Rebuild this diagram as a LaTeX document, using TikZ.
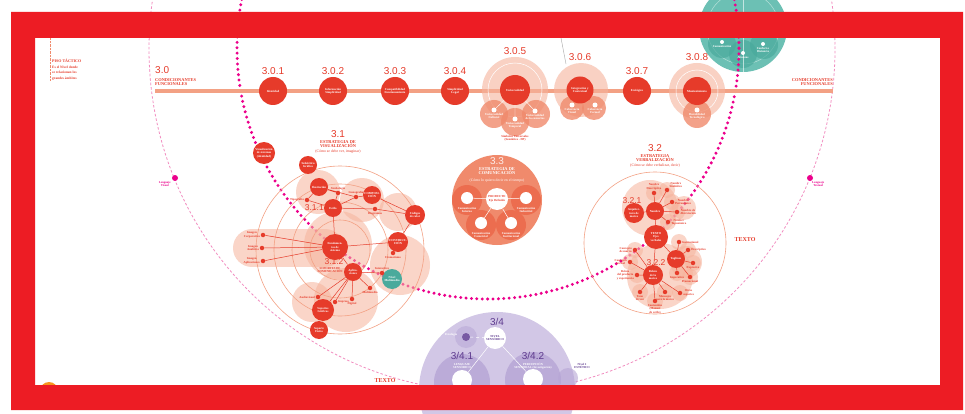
\documentclass[tikz,border=0pt]{standalone}
\usepackage{fontspec}
\setmainfont{Liberation Serif}
\newfontfamily\numfont{Liberation Sans}
\newcommand\tinyt{\fontsize{3}{3.4}\selectfont\bfseries}
\newcommand\midt{\fontsize{4.4}{4.8}\selectfont\bfseries}
\newcommand\numt{\numfont\fontsize{10}{10}\selectfont}
\newcommand\numst{\numfont\fontsize{8.5}{8.5}\selectfont}
\definecolor{fred}{HTML}{ED1C24}
\definecolor{nred}{HTML}{E63B2A}
\definecolor{salL}{HTML}{F6B39C}
\definecolor{salM}{HTML}{F08A6C}
\definecolor{salD}{HTML}{EC6D4F}
\definecolor{lineS}{HTML}{F3A184}
\definecolor{mag}{HTML}{EC008C}
\definecolor{pinkl}{HTML}{F28DC0}
\definecolor{teal1}{HTML}{6CC0B4}
\definecolor{teal2}{HTML}{4AAA9C}
\definecolor{lav}{HTML}{D2C7E6}
\definecolor{lavD}{HTML}{B6A5D5}
\definecolor{purp}{HTML}{5E3A8E}
\definecolor{orng}{HTML}{F7941D}
\tikzset{
 rn/.style={circle, fill=nred, inner sep=0pt, minimum size=#1, text=white, font=\tinyt, align=center},
 halo/.style={circle, fill=salL, fill opacity=0.6, inner sep=0pt, minimum size=#1},
 halom/.style={circle, fill=salM, fill opacity=0.8, inner sep=0pt, minimum size=#1},
 wdot/.style={circle, fill=white, inner sep=0pt, minimum size=#1},
 sdot/.style={circle, fill=nred, inner sep=0pt, minimum size=4.5pt},
 lbl/.style={font=\tinyt, text=nred, align=center, inner sep=0.6pt},
 wlbl/.style={font=\tinyt, text=white, align=center, inner sep=0.6pt},
 head/.style={font=\midt, text=nred, align=center, inner sep=0pt},
 num/.style={font=\numt, text=nred, inner sep=0pt},
 nums/.style={font=\numst, text=nred, inner sep=0pt},
 conn/.style={draw=nred, line width=0.5pt},
 wconn/.style={draw=white, line width=0.5pt},
 blob/.style={fill=salL, fill opacity=0.55},
}
\begin{document}
\begin{tikzpicture}[x=1pt,y=-1pt]
\useasboundingbox (0,0) rectangle (965,414);
\fill[white] (0,0) rectangle (965,414);
\begin{scope}
\clip (0,0) rectangle (965,414);

% ---------- big curves ----------
\draw[pinkl, line width=0.8pt, dash pattern=on 2.5pt off 2pt] (492,49) circle (343pt);

% ---------- purple semicircle ----------
\fill[lav] (497,390) circle (78pt);
\fill[lavD, opacity=0.8] (462,382) circle (28pt);
\fill[lavD, opacity=0.8] (533,380) circle (28pt);
\fill[lavD, opacity=0.6] (568,378) circle (10pt);
\fill[lavD, opacity=0.5] (466,337) circle (11pt);
\node[text=purp, font=\numt, inner sep=0pt] (t34) at (497,322) {3/4};
\node[wdot=22pt, text=purp, font=\tinyt, align=center] (ns) at (495,338) {NIVEL\\SENSÓRICO};
\node[circle, fill=purp!70!lavD, inner sep=0pt, minimum size=8pt] (fis) at (466,337) {};
\node[wlbl, anchor=east] (fisl) at (458,335) {Fisiología};
\draw[white, line width=0.5pt, dashed] (fis) -- (ns);
\node[text=purp, font=\numt, inner sep=0pt] (t341) at (462,356) {3/4.1};
\node[wlbl] (l341) at (462,366) {LENGUAJE\\SENSÓRICO};
\node[wdot=20pt] (wl) at (462,380) {};
\node[text=purp, font=\numt, inner sep=0pt] (t342) at (533,356) {3/4.2};
\node[wlbl] (l342) at (533,366) {PERCEPCIÓN\\SENSORIAL (Investigación)};
\node[wdot=20pt] (wr) at (533,379) {};
\draw[wconn] (ns) -- (wl) (ns) -- (wr);
\node[font=\tinyt, text=purp, align=center, inner sep=0pt] (n2e) at (582,366) {Nivel 2\\ESTÉTICO};

% ---------- teal circle (top) ----------
\fill[teal1] (743,28) circle (44pt);
\draw[white, opacity=0.5, line width=0.5pt] (743,28) circle (36pt);
\fill[teal2, opacity=0.7] (722,44) circle (14pt) (764,45) circle (14pt);
\fill[teal2, opacity=0.7] (743,54) circle (14pt);
\draw[white, opacity=0.6, line width=0.5pt] (743,-20) -- (743,72);
\node[wdot=4pt, label={[wlbl, label distance=0pt]below:Comunicación}] (tc1) at (722,42) {};
\node[wdot=4pt, label={[wlbl, label distance=0pt]below:Alianzas}] (tc2) at (743,53) {};
\node[wdot=4pt, label={[wlbl, label distance=0pt]below:{Confort o\\Distancia}}] (tc3) at (763,44) {};

% ---------- magenta dotted circle ----------
\draw[mag, line width=3.3pt, dash pattern=on 0pt off 5.4pt, line cap=round] (488,48) circle (251pt);

% ---------- top-left text ----------
\draw[salM, line width=0.8pt, dash pattern=on 0.6pt off 0.8pt] (50,38) -- (50,81);
\node[font=\fontsize{3.5}{5.5}\selectfont\bfseries, text=nred, align=left, anchor=north west, inner sep=0pt] (tl) at (52,59) {{\fontsize{4}{5.5}\selectfont PISO TÁCTICO}\\Es el Nivel donde\\se relacionan los\\grandes ámbitos};

% ---------- main line 3.0 ----------
\coordinate (l0) at (155,91);
\coordinate (l1) at (833,91);
\draw[lineS, line width=4pt] (l0) -- (l1);
\node[num, anchor=west] (t30) at (155,70) {3.0};
\node[head, anchor=north west, align=left] (h30) at (155,78) {CONDICIONANTES\\FUNCIONALES};
\node[head, anchor=north east, align=right] (h30r) at (833,78) {CONDICIONANTES\\FUNCIONALES};

% halos
\node[halo=66pt] (h305) at (515,90) {};
\draw[white, line width=0.5pt] (h305.center) circle (27pt);
\node[halom=28pt] (u1h) at (494,114) {};
\node[halom=28pt] (u3h) at (536,114) {};
\node[halom=28pt] (u2h) at (515,122) {};
\node[halo=54pt] (h306) at (581,90) {};
\node[halom=24pt] (c1h) at (572,108) {};
\node[halom=24pt] (c2h) at (594,108) {};
\node[halo=56pt] (h308) at (697,91) {};
\draw[white, line width=0.5pt] (h308.center) circle (21pt);
\node[halom=28pt] (d8h) at (697,114) {};

% nodes
\node[rn=28pt] (n301) at (273,91) {Identidad};
\node[rn=28pt] (n302) at (333,91) {Información\\Simplicidad};
\node[rn=28pt] (n303) at (395,91) {Compatibilidad\\Funcionamiento};
\node[rn=28pt] (n304) at (455,91) {Simplicidad\\Legal};
\node[rn=30pt] (n305) at (515,90) {Universalidad};
\node[rn=27pt] (n306) at (580,90) {Integración y\\Contextual};
\node[rn=28pt] (n307) at (637,91) {Ecológico};
\node[rn=28pt] (n308) at (697,91) {Mantenimiento};
\node[num] at (273,71) {3.0.1};
\node[num] at (333,71) {3.0.2};
\node[num] at (395,71) {3.0.3};
\node[num] at (455,71) {3.0.4};
\node[num] at (515,51) {3.0.5};
\node[num] at (580,57) {3.0.6};
\node[num] at (637,71) {3.0.7};
\node[num] at (697,57) {3.0.8};

\node[wdot=5pt] (u1) at (494,110) {};
\node[wdot=5pt] (u2) at (515,119) {};
\node[wdot=5pt] (u3) at (535,111) {};
\draw[wconn, line width=0.4pt] (n305) -- (u1) (n305) -- (u2) (n305) -- (u3);
\node[wlbl, anchor=north] at (u1.south) {Universalidad\\Cultural};
\node[wlbl, anchor=north] at (u2.south) {Universalidad\\Temporal};
\node[wlbl, anchor=north] at (u3.south) {Universalidad\\de los usuarios};
\node[lbl] (sym) at (515,138) {Símbolos Universales\\(Semiótica - DP)};
\node[wdot=5pt] (cv) at (572,105) {};
\node[wdot=5pt] (cf) at (595,105) {};
\node[wlbl, anchor=north] at (cv.south) {Coherencia\\Visual};
\node[wlbl, anchor=north] at (cf.south) {Coherencia\\Formal};
\node[wdot=5pt] (dt) at (697,110) {};
\node[wlbl, anchor=north] at (dt.south) {Durabilidad\\Tecnológica};
\draw[gray!70, line width=0.4pt] (561,38) -- (566,64);

% ---------- 3.1 ----------
\node[num] (t31) at (338,134) {3.1};
\node[head] (h31) at (338,144) {ESTRATEGIA DE\\VISUALIZACIÓN};
\node[lbl, font=\fontsize{3.8}{4}\selectfont] (s31) at (338,152) {(Cómo se debe ver, imaginar)};
\draw[salL, opacity=0.55, line width=38pt, line cap=round] (252,248) -- (325,248);
\fill[blob] (318,192) circle (22pt);
\fill[blob] (362,200) circle (22pt);
\fill[blob] (398,212) circle (19pt);
\fill[blob] (338,245) circle (34pt);
\fill[blob] (400,265) circle (30pt);
\fill[blob] (346,300) circle (32pt);
\fill[blob] (312,302) circle (20pt);
\draw[lineS, line width=0.6pt] (340,250) circle (30pt) circle (48pt) circle (66pt) circle (84pt);

\node[rn=22pt] (vis) at (264,153) {Visualización\\de sistemas\\(identidad)};
\node[rn=18pt] (sen) at (308,165) {Señalética\\Gráfica};
\node[rn=18pt] (ilu) at (319,187) {Ilustración};
\node[rn=18pt] (com) at (372,195) {COMPOSI-\\CIÓN};
\node[rn=20pt] (cod) at (415,215) {Códigos\\de color};
\node[rn=20pt] (con) at (398,242) {CONSTRUC-\\CIÓN};
\node[rn=18pt] (est) at (333,208) {Estilo};
\node[rn=26pt] (fun) at (335,247) {Fundamen-\\tos de\\sistema};
\node[rn=18pt] (apl) at (353,272) {Aplica-\\ciones};
\node[rn=20pt, fill=teal2] (tea) at (392,279) {Nivel\\Multimedia};
\node[rn=22pt] (low1) at (323,310) {Soportes\\Gráficos};
\node[rn=18pt] (low2) at (319,330) {Soporte\\Físico};
\node[sdot, label={[lbl]left:Tipografía}] (s1) at (307,200) {};
\node[sdot, label={[lbl]above:Simbología}] (s2) at (338,193) {};
\node[sdot, label={[lbl]above:Iconografía}] (s3) at (356,197) {};
\node[sdot, label={[lbl]below:Diagramas}] (s4) at (375,209) {};
\node[sdot, label={[lbl]below:Cromatismo}] (s5) at (393,253) {};
\node[sdot, label={[lbl]left:{Imagen\\Corporativa}}] (a1) at (263,235) {};
\node[sdot, label={[lbl]left:{Imagen\\Analítica}}] (a2) at (262,248) {};
\node[sdot, label={[lbl]left:{Imagen\\Aplicaciones}}] (a3) at (263,261) {};
\node[sdot, label={[lbl]above:Interactivo}] (b1) at (382,273) {};
\node[sdot, label={[lbl]below:Multimedia}] (b2) at (370,288) {};
\node[sdot, label={[lbl]below:Digital}] (b3) at (352,299) {};
\node[sdot, label={[lbl]right:Impreso}] (b4) at (335,302) {};
\node[sdot, label={[lbl]left:Audiovisual}] (b5) at (318,297) {};
\node[nums, anchor=east] at (324,208) {3.1.1};
\node[nums] at (334,262) {3.1.2};
\node[lbl] at (330,270) {SOPORTES DE\\COMUNICACIÓN};
\draw[conn] (fun)--(a1) (fun)--(a2) (fun)--(a3) (fun)--(est) (fun)--(apl) (fun)--(con)
  (est)--(s1) (est)--(s2) (est)--(s3) (ilu)--(s1) (ilu)--(s2) (ilu)--(s3) (s3)--(com)
  (com)--(cod) (s4)--(cod) (est)--(s4) (con)--(cod) (con)--(s5)
  (apl)--(b1) (apl)--(b2) (apl)--(b3) (apl)--(b4) (apl)--(b5) (apl)--(low1) (b1)--(tea) (low1)--(low2);

% ---------- 3.3 ----------
\node[circle, fill=salM, inner sep=0pt, minimum size=90pt] (c33) at (497,200) {};
\node[font=\numt, text=white!85!salM, inner sep=0pt] (t33) at (497,161) {3.3};
\node[head, text=white] (h33) at (497,171) {ESTRATEGIA DE\\COMUNICACIÓN};
\node[wlbl, font=\fontsize{3.8}{4}\selectfont] (s33) at (497,181) {(Cómo lo quiero decir en el tiempo)};
\node[circle, fill=salD, inner sep=0pt, minimum size=30pt] (k1h) at (467,200) {};
\node[circle, fill=salD, inner sep=0pt, minimum size=30pt] (k2h) at (526,200) {};
\node[circle, fill=salD, inner sep=0pt, minimum size=30pt] (k3h) at (481,225) {};
\node[circle, fill=salD, inner sep=0pt, minimum size=30pt] (k4h) at (511,225) {};
\node[wdot=12pt] (k1) at (467,198) {};
\node[wdot=12pt] (k2) at (526,198) {};
\node[wdot=12pt] (k3) at (481,223) {};
\node[wdot=12pt] (k4) at (511,223) {};
\node[wdot=22pt, text=nred, font=\tinyt, align=center] (prod) at (497,199) {PRODUCTO\\Eje Definido};
\draw[wconn] (prod)--(k1) (prod)--(k2) (prod)--(k3) (prod)--(k4);
\node[wlbl] at (467,210) {Comunicación\\Interna};
\node[wlbl] at (526,210) {Comunicación\\Industrial};
\node[wlbl] at (481,235) {Comunicación\\Comercial};
\node[wlbl] at (511,235) {Comunicación\\Institucional};

% ---------- 3.2 ----------
\node[num] (t32) at (655,148) {3.2};
\node[head] (h32) at (655,158) {ESTRATEGIA\\VERBALIZACIÓN};
\node[lbl, font=\fontsize{3.8}{4}\selectfont] (s32) at (655,166) {(Cómo se debe verbalizar, decir)};
\draw[lineS, line width=0.6pt] (655,243) circle (71pt);
\fill[blob] (650,208) circle (28pt);
\fill[blob] (660,276) circle (33pt);
\fill[blob] (686,262) circle (16pt);
\fill[blob] (684,208) circle (12pt);
\foreach \p in {(654,193),(667,190),(672,202),(677,212),(668,222),(679,242),(688,250),(693,263),(677,273),(690,277),(635,250),(630,262),(637,275),(640,292),(655,301),(665,292),(680,293)}
  \fill[blob] \p circle (8pt);
\node[rn=18pt] (nom) at (655,211) {Nombre};
\node[rn=20pt] (n321) at (634,213) {Arquitec-\\tura de\\marca};
\node[rn=24pt] (tex) at (656,237) {TEXTO\\Ejes\\verbales};
\node[rn=18pt] (tag) at (676,259) {Taglines};
\node[rn=20pt] (n322) at (653,275) {Relato\\de la\\marca};
\node[nums] at (632,201) {3.2.1};
\node[nums] at (656,263) {3.2.2};
\node[sdot, label={[lbl]above:{Nombre\\Descriptivo}}] (d1) at (654,193) {};
\node[sdot, label={[lbl]above right:{Nombre\\Simbólico}}] (d2) at (667,190) {};
\node[sdot, label={[lbl]right:{Nombre\\Patronímico}}] (d3) at (672,202) {};
\node[sdot, label={[lbl]right:{Nombre de\\Abreviación}}] (d4) at (677,212) {};
\node[sdot, label={[lbl]right:{Nombre\\Toponímico}}] (d5) at (668,222) {};
\node[sdot, label={[lbl]right:Institucional}] (q1) at (679,242) {};
\node[sdot, label={[lbl]right:Descriptivo}] (q2) at (688,250) {};
\node[sdot, label={[lbl]below:Expresivo}] (q3) at (693,263) {};
\node[sdot, label={[lbl]below:Imperativo}] (q4) at (677,273) {};
\node[sdot, label={[lbl]below:Promocional}] (q5) at (690,277) {};
\node[sdot, label={[lbl]left:{Concepto\\de marca}}] (r1) at (635,250) {};
\node[sdot, label={[lbl]left:{Concepto\\Verbal}}] (r2) at (630,262) {};
\node[sdot, label={[lbl]left:{Relato\\del producto\\y experiencia}}] (r3) at (637,275) {};
\node[sdot, label={[lbl]below:{Tono\\de voz}}] (r4) at (640,292) {};
\node[sdot, label={[lbl]below:{Contenidos\\(Manual\\de estilo)}}] (r5) at (655,301) {};
\node[sdot, label={[lbl]below:{Mensajes\\para la marca}}] (r6) at (665,292) {};
\node[sdot, label={[lbl]right:{Otros\\soportes}}] (r7) at (680,293) {};
\draw[conn] (tex)--(nom) (nom)--(n321) (nom)--(d1) (nom)--(d2) (nom)--(d3) (nom)--(d4) (nom)--(d5)
  (tex)--(tag) (tag)--(q1) (tag)--(q2) (tag)--(q3) (tag)--(q4) (tag)--(q5)
  (tex)--(n322) (n322)--(r1) (n322)--(r2) (n322)--(r3) (n322)--(r4) (n322)--(r5) (n322)--(r6) (n322)--(r7);
\node[font=\fontsize{6}{6}\selectfont\bfseries, text=nred, inner sep=0pt] (tx1) at (745,240) {TEXTO};
\node[font=\fontsize{6}{6}\selectfont\bfseries, text=nred, inner sep=0pt] (tx2) at (385,381) {TEXTO};

% ---------- Lenguaje nodes ----------
\node[circle, fill=mag, inner sep=0pt, minimum size=6pt] (lv) at (175,178) {};
\node[font=\tinyt, text=mag, align=center, anchor=north east, inner sep=0pt] (lvl) at (171,181) {Lenguaje\\Visual};
\node[circle, fill=mag, inner sep=0pt, minimum size=6pt] (lt) at (810,178) {};
\node[font=\tinyt, text=mag, align=center, anchor=north west, inner sep=0pt] (ltl) at (812,181) {Lenguaje\\Textual};

% ---------- sun ----------
\fill[orng] (49,391) circle (9pt);

% ---------- frame ----------
\fill[fred, even odd rule] (11,12) rectangle (963,410) (35,38) rectangle (940,385);
\end{scope}
\end{tikzpicture}
\end{document}
